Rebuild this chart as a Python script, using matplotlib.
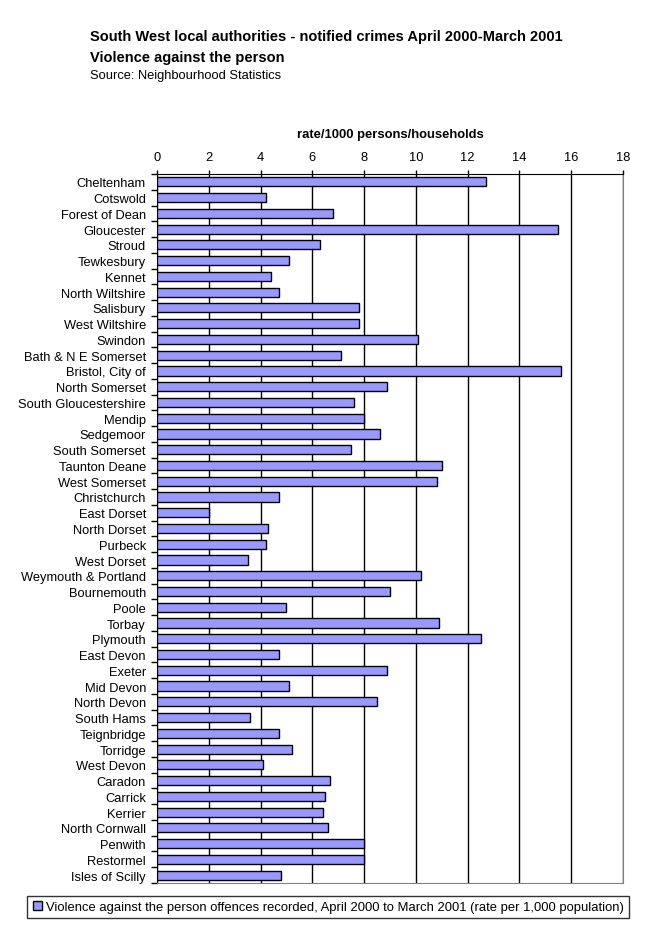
import matplotlib.pyplot as plt
from matplotlib.patches import Patch
import numpy as np

plt.rcParams['font.family'] = ['Liberation Sans', 'DejaVu Sans']

areas = ['Cheltenham', 'Cotswold', 'Forest of Dean', 'Gloucester', 'Stroud',
         'Tewkesbury', 'Kennet', 'North Wiltshire', 'Salisbury', 'West Wiltshire',
         'Swindon', 'Bath & N E Somerset', 'Bristol, City of', 'North Somerset',
         'South Gloucestershire', 'Mendip', 'Sedgemoor', 'South Somerset',
         'Taunton Deane', 'West Somerset', 'Christchurch', 'East Dorset',
         'North Dorset', 'Purbeck', 'West Dorset', 'Weymouth & Portland',
         'Bournemouth', 'Poole', 'Torbay', 'Plymouth', 'East Devon', 'Exeter',
         'Mid Devon', 'North Devon', 'South Hams', 'Teignbridge', 'Torridge',
         'West Devon', 'Caradon', 'Carrick', 'Kerrier', 'North Cornwall',
         'Penwith', 'Restormel', 'Isles of Scilly']
rates = [12.7, 4.2, 6.8, 15.5, 6.3,
         5.1, 4.4, 4.7, 7.8, 7.8,
         10.1, 7.1, 15.6, 8.9,
         7.6, 8.0, 8.6, 7.5,
         11.0, 10.8, 4.7, 2.0,
         4.3, 4.2, 3.5, 10.2,
         9.0, 5.0, 10.9, 12.5, 4.7, 8.9,
         5.1, 8.5, 3.6, 4.7, 5.2,
         4.1, 6.7, 6.5, 6.4, 6.6,
         8.0, 8.0, 4.8]
xticks = [0, 2, 4, 6, 8, 10, 12, 14, 16, 18]

fig = plt.figure(figsize=(6.48, 9.29), dpi=100)
ax = fig.add_axes([157/648, 1 - 884/929, (623-157)/648, (884-175)/929])

y = np.arange(len(areas))
ax.barh(y, rates, height=0.58, color='#9999FF', edgecolor='black', linewidth=1, zorder=3)

ax.set_xlim(0, 18)
ax.set_ylim(len(areas) - 0.5, -0.5)
ax.set_xticks(xticks)
ax.xaxis.tick_top()
ax.xaxis.set_label_position('top')
ax.set_xlabel('rate/1000 persons/households', fontweight='bold', fontsize=9.4, labelpad=10)
ax.tick_params(axis='x', length=3, width=1, labelsize=9.3, pad=5)
ax.grid(axis='x', color='black', linewidth=1, zorder=0)

ax.set_yticks(y)
ax.set_yticklabels(areas, fontsize=9.3)
ax.set_yticks(np.arange(len(areas) + 1) - 0.5, minor=True)
ax.tick_params(axis='y', which='major', length=0, pad=8)
ax.tick_params(axis='y', which='minor', length=4, width=1)

ax.spines['right'].set_color('#808080')
ax.spines['bottom'].set_color('#808080')

fig.text(90/648, 1 - 37/929, 'South West local authorities - notified crimes April 2000-March 2001',
         fontsize=10.5, fontweight='bold', va='center')
fig.text(90/648, 1 - 58/929, 'Violence against the person', fontsize=10.5, fontweight='bold', va='center')
fig.text(90/648, 1 - 76/929, 'Source: Neighbourhood Statistics', fontsize=9.3, va='center')

handle = Patch(facecolor='#9999FF', edgecolor='black', linewidth=1)
leg = fig.legend([handle], ['Violence against the person offences recorded, April 2000 to March 2001 (rate per 1,000 population)'],
                 loc='center', bbox_to_anchor=(328/648, 1 - 908/929), fontsize=9.4, frameon=True,
                 fancybox=False, edgecolor='black', handlelength=0.7, handleheight=0.7,
                 handletextpad=0.3, borderpad=0.4, borderaxespad=0)
leg.get_frame().set_linewidth(1)

fig.savefig('out.png', dpi=100)
